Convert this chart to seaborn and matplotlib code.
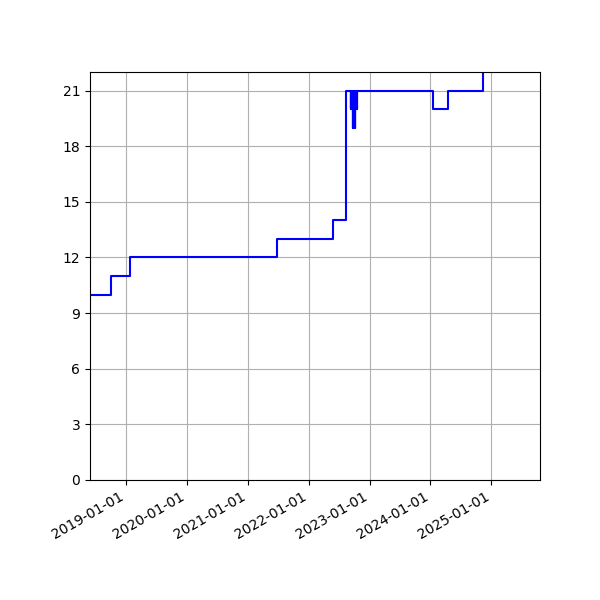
import pandas as pd
import matplotlib
matplotlib.use("Agg")
import matplotlib.pyplot as plt
import matplotlib.dates as mdates
import seaborn as sns

# step changes
dates = ["2018-05-01", "2018-10-03", "2019-01-25", "2021-06-24", "2022-05-25",
         "2022-08-11",
         "2022-09-10", "2022-09-11", "2022-09-12", "2022-09-13", "2022-09-14",
         "2022-09-15", "2022-09-16", "2022-09-17", "2022-09-18", "2022-09-19",
         "2022-09-20", "2022-09-21", "2022-09-22", "2022-09-23", "2022-09-24",
         "2022-09-25", "2022-09-26", "2022-09-27", "2022-09-28", "2022-09-29",
         "2022-09-30", "2022-10-01", "2022-10-02", "2022-10-03", "2022-10-04",
         "2022-10-05", "2022-10-06", "2022-10-07", "2022-10-08", "2022-10-09",
         "2022-10-10", "2022-10-11", "2022-10-12", "2022-10-13", "2022-10-14",
         "2022-10-15", "2022-10-16", "2022-10-17", "2022-10-18",
         "2024-01-19", "2024-04-18", "2024-11-14"]
values = [10, 11, 12, 13, 14,
          21,
          20, 21, 20, 21, 20,
          21, 20, 21, 20, 21,
          20, 21, 19, 21, 20,
          19, 21, 19, 20, 19,
          21, 19, 20, 19, 21,
          19, 20, 21, 20, 21,
          20, 21, 20, 21, 20,
          21, 20, 21, 21,
          20, 21, 23]

df = pd.DataFrame({"date": pd.to_datetime(dates), "value": values})

fig, ax = plt.subplots(figsize=(6, 6), dpi=100)
sns.lineplot(data=df, x="date", y="value", ax=ax, color="blue",
             drawstyle="steps-post", linewidth=1.5)

ax.set_xlim(pd.Timestamp("2018-05-28"), pd.Timestamp("2025-10-20"))
ax.set_ylim(0, 22)
ax.set_yticks(range(0, 22, 3))
ax.xaxis.set_major_locator(mdates.YearLocator())
ax.xaxis.set_major_formatter(mdates.DateFormatter("%Y-%m-%d"))
ax.set_xlabel("")
ax.set_ylabel("")
ax.grid(True)
fig.autofmt_xdate()
fig.subplots_adjust(left=0.15, right=0.9, top=0.88, bottom=0.2)
fig.savefig("out.png")
